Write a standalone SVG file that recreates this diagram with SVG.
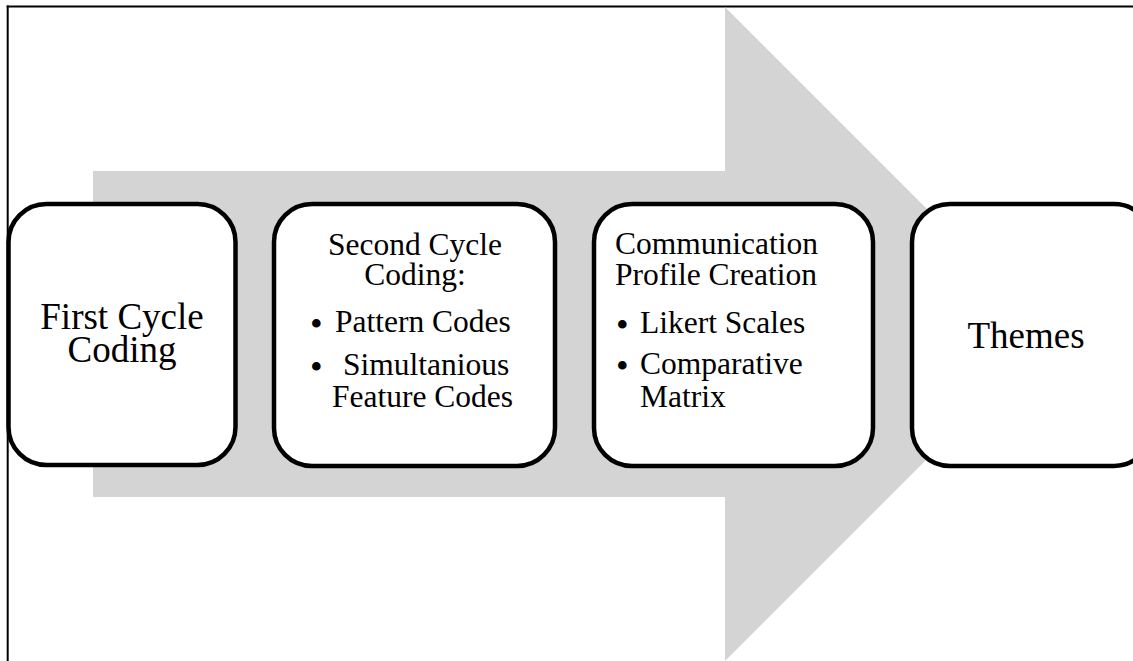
<svg xmlns="http://www.w3.org/2000/svg" width="1133" height="661" viewBox="0 0 1133 661">
  <style>
    .frame { stroke: #000; stroke-width: 2; fill: none; }
    .arrow { fill: #d4d4d4; stroke: none; }
    .box { fill: #fff; stroke: #000; stroke-width: 4.5; }
    .t { font-family: "Liberation Serif", "Times New Roman", serif; fill: #000; }
    .big { font-size: 37px; }
    .mid { font-size: 31.5px; }
    .dot { font-size: 36px; }
    .c { text-anchor: middle; }
  </style>
  <rect width="1133" height="661" fill="#fff"/>
  <!-- page frame: left and top rules -->
  <g id="frame">
    <line class="frame" x1="7.7" y1="5.5" x2="7.7" y2="661"/>
    <line class="frame" x1="6.7" y1="6.5" x2="1133" y2="6.5"/>
  </g>
  <!-- background process arrow -->
  <g id="connectors">
    <polygon class="arrow" points="93,171 725,171 725,7 1052,334 725,661 725,497 93,497"/>
  </g>
  <g id="first-cycle">
    <rect class="box" x="8.5" y="204" width="227" height="261" rx="38" ry="38"/>
    <text class="t big c" x="122" y="329">First Cycle</text>
    <text class="t big c" x="122" y="362">Coding</text>
  </g>
  <g id="second-cycle">
    <rect class="box" x="274" y="204" width="281" height="262" rx="38" ry="38"/>
    <text class="t mid c" x="415" y="255">Second Cycle</text>
    <text class="t mid c" x="415" y="285">Coding:</text>
    <text class="t dot" x="310" y="336">•</text>
    <text class="t mid" x="335" y="332">Pattern Codes</text>
    <text class="t dot" x="310" y="379">•</text>
    <text class="t mid" x="343" y="375">Simultanious</text>
    <text class="t mid" x="332" y="407">Feature Codes</text>
  </g>
  <g id="profile-creation">
    <rect class="box" x="594" y="204" width="279" height="262" rx="38" ry="38"/>
    <text class="t mid" x="615" y="254">Communication</text>
    <text class="t mid" x="615" y="285">Profile Creation</text>
    <text class="t dot" x="616" y="337">•</text>
    <text class="t mid" x="640" y="333">Likert Scales</text>
    <text class="t dot" x="616" y="378">•</text>
    <text class="t mid" x="640" y="374">Comparative</text>
    <text class="t mid" x="640" y="407">Matrix</text>
  </g>
  <g id="themes">
    <rect class="box" x="912" y="204" width="240" height="262" rx="38" ry="38"/>
    <text class="t big c" x="1026" y="348">Themes</text>
  </g>
</svg>
